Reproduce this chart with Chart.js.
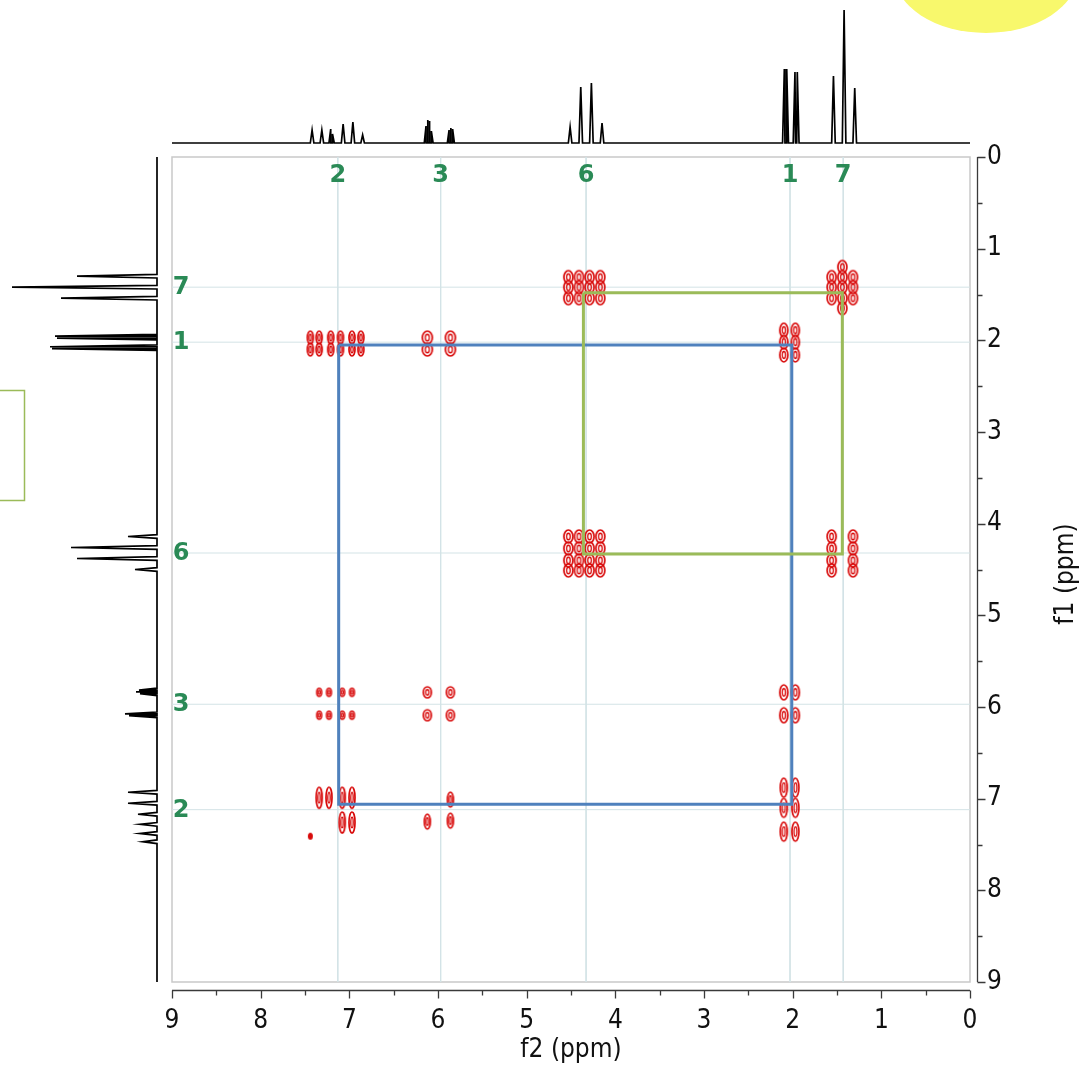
<!DOCTYPE html>
<html>
<head>
<meta charset="utf-8">
<script src="https://cdn.jsdelivr.net/npm/chart.js@4.4.1/dist/chart.umd.min.js"></script>
<style>
  html, body { margin: 0; padding: 0; background: #ffffff; }
  #wrap { position: relative; width: 1081px; height: 1066px; overflow: hidden; background: #ffffff; }
  #wrap canvas { position: absolute; }
</style>
</head>
<body>
<div id="wrap">
  <canvas id="main" width="1081" height="1066" style="left:0;top:0;width:1081px;height:1066px"></canvas>
  <canvas id="topSpec" width="1081" height="157" style="left:0;top:0;width:1081px;height:157px"></canvas>
  <canvas id="leftSpec" width="172" height="825" style="left:0;top:157px;width:172px;height:825px"></canvas>
</div>
<script>
// ---------------- DATA ----------------
// axis ranges / ticks (ppm)
const f2Min = 0, f2Max = 9;
const f1Min = 0, f1Max = 9;
const axisTickValues = [0, 1, 2, 3, 4, 5, 6, 7, 8, 9];

// 1D 1H spectrum shown along f2 (top): line positions (ppm) and intensities
const topPeakPpm    = [7.42, 7.31, 7.21, 7.19, 7.07, 6.96, 6.85, 6.135, 6.115, 6.095, 6.075, 5.875, 5.855, 5.835, 4.51, 4.39, 4.27, 4.15, 2.094, 2.067, 1.974, 1.948, 1.54, 1.42, 1.30];
const topPeakHeight = [13,   13,   14,   9,    19,   21,   8,    17,    23,    22,    12,    13,    15,    14,    16,   56,   60,   20,   74,    74,    71,    71,    67,   133,  55];

// 1D 1H spectrum shown along f1 (left): line positions (ppm) and intensities
const leftPeakPpm    = [1.30, 1.42, 1.54, 1.955, 1.975, 2.07, 2.09, 4.14, 4.26, 4.38, 4.50, 5.815, 5.835, 5.855, 6.075, 6.095, 6.93, 7.05, 7.17, 7.28, 7.38, 7.47];
const leftPeakHeight = [80,   145,  96,   102,   100,   107,  105,  29,   86,   80,   22,   18,    21,    17,    32,    28,    29,   29,   19,   17,   17,   14];

// assignment labels and their shifts
const assignLabels = ['2', '3', '6', '1', '7'];
const assignF2 = [7.13, 5.97, 4.33, 2.03, 1.43];
const assignF1 = [7.12, 5.97, 4.32, 2.02, 1.42];

// COSY cross-peak line sets (ppm): columns along f2, rows along f1
const colsH2row1 = [7.44, 7.34, 7.21, 7.10, 6.97, 6.87];
const colsH2     = [7.34, 7.23, 7.08, 6.97];
const colsH2b    = [7.08, 6.97];
const colsH3     = [6.12, 5.86];
const colsH6     = [4.53, 4.41, 4.29, 4.17];
const colsH1     = [2.10, 1.97];
const colsH7     = [1.56, 1.44, 1.32];
const colsH7side = [1.56, 1.32];
const colsH7mid  = [1.44];
const rowsH1     = [1.97, 2.10];
const rowsH1diag = [1.89, 2.02, 2.16];
const rowsH7     = [1.31, 1.42, 1.54];
const rowsH7ext  = [1.20, 1.65];
const rowsH6     = [4.14, 4.27, 4.40, 4.51];
const rowsH3     = [5.84, 6.09];
const rowsH2a    = [6.99];
const rowsH2b    = [7.26];
const rowsH3H2a  = [7.25];
const rowsH3H2b  = [7.01, 7.24];
const rowsH1H2   = [6.88, 7.10, 7.36];
const strayPeak  = [[7.44, 7.41]];

// connectivity boxes (ppm corners)
const blueBoxF2 = [7.12, 2.01];
const blueBoxF1 = [2.05, 7.06];
const greenBoxF2 = [4.36, 1.44];
const greenBoxF1 = [1.48, 4.33];

// ---------------- HELPERS ----------------
const RED = '#d80a0a';
const GREEN_TXT = '#2a8a56';
const TICK_FONT = "'DejaVu Sans Condensed', 'DejaVu Sans', sans-serif";

function sprite(w, h, opts) {
  opts = opts || {};
  const pad = 2;
  const c = document.createElement('canvas');
  c.width = Math.ceil(w + pad * 2);
  c.height = Math.ceil(h + pad * 2);
  const g = c.getContext('2d');
  const cx = c.width / 2, cy = c.height / 2;
  g.strokeStyle = RED;
  g.fillStyle = RED;
  g.lineWidth = opts.lw || 1.7;
  g.beginPath();
  g.ellipse(cx, cy, w / 2, h / 2, 0, 0, Math.PI * 2);
  if (opts.fill) { g.fill(); } else { g.stroke(); }
  if (!opts.fill) {
    g.lineWidth = 1.3;
    g.beginPath();
    g.ellipse(cx, cy, Math.max(w / 2 * 0.4, 0.8), Math.max(h / 2 * 0.5, 0.8), 0, 0, Math.PI * 2);
    g.stroke();
  }
  return c;
}

function grid(cols, rows) {
  const pts = [];
  cols.forEach(x => rows.forEach(y => pts.push({ x, y })));
  return pts;
}

function traceF2(ppm, h, hw) {
  const pts = [{ x: f2Max, y: 0 }, { x: f2Min, y: 0 }];
  ppm.forEach((p, i) => { pts.push({ x: p + hw, y: 0 }, { x: p, y: h[i] }, { x: p - hw, y: 0 }); });
  pts.sort((a, b) => b.x - a.x);
  return pts;
}
function traceF1(ppm, h, hw) {
  const pts = [{ y: f1Min, x: 0 }, { y: f1Max, x: 0 }];
  ppm.forEach((p, i) => { pts.push({ y: p - hw, x: 0 }, { y: p, x: h[i] }, { y: p + hw, x: 0 }); });
  pts.sort((a, b) => a.y - b.y);
  return pts;
}

// ---------------- MAIN 2D CHART ----------------
const sp = {
  lobeNarrow: sprite(6, 13),
  lobeWide: sprite(10, 13),
  lobe: sprite(9, 13),
  lobeDiag1: sprite(8, 14),
  small: sprite(5, 8, { lw: 1.5 }),
  mid: sprite(8, 11),
  h1h3: sprite(8, 15),
  tall: sprite(6, 21),
  h3h2: sprite(6, 15),
  h1h2: sprite(7, 19),
  dot: sprite(5, 7, { fill: true })
};

const clusters = [
  [grid(colsH2row1, rowsH1), sp.lobeNarrow],
  [grid(colsH3, rowsH1), sp.lobeWide],
  [grid(colsH1, rowsH1diag), sp.lobeDiag1],
  [grid(colsH6, rowsH7), sp.lobe],
  [grid(colsH7, rowsH7), sp.lobe],
  [grid(colsH7mid, rowsH7ext), sp.lobe],
  [grid(colsH6, rowsH6), sp.lobe],
  [grid(colsH7side, rowsH6), sp.lobe],
  [grid(colsH2, rowsH3), sp.small],
  [grid(colsH3, rowsH3), sp.mid],
  [grid(colsH1, rowsH3), sp.h1h3],
  [grid(colsH2, rowsH2a), sp.tall],
  [grid(colsH2b, rowsH2b), sp.tall],
  [grid([colsH3[0]], rowsH3H2a), sp.h3h2],
  [grid([colsH3[1]], rowsH3H2b), sp.h3h2],
  [grid(colsH1, rowsH1H2), sp.h1h2],
  [strayPeak.map(p => ({ x: p[0], y: p[1] })), sp.dot]
];

const datasets = [];
function box(f2s, f1s) {
  return [
    { x: f2s[0], y: f1s[0] }, { x: f2s[1], y: f1s[0] },
    { x: f2s[1], y: f1s[1] }, { x: f2s[0], y: f1s[1] },
    { x: f2s[0], y: f1s[0] }
  ];
}
datasets.push({ data: box(greenBoxF2, greenBoxF1), showLine: true, pointRadius: 0, borderColor: '#9bbb59', borderWidth: 3, order: 0, tension: 0 });
datasets.push({ data: box(blueBoxF2, blueBoxF1), showLine: true, pointRadius: 0, borderColor: '#4f81bd', borderWidth: 3, order: 0, tension: 0 });
clusters.forEach(c => {
  datasets.push({ data: c[0], pointStyle: c[1], pointRadius: 6, showLine: false, order: 1 });
});
assignF2.forEach(p => {
  datasets.push({ data: [{ x: p, y: f1Min }, { x: p, y: f1Max }], showLine: true, pointRadius: 0, borderColor: '#d3e3e6', borderWidth: 1, order: 2 });
});
assignF1.forEach(p => {
  datasets.push({ data: [{ x: f2Min, y: p }, { x: f2Max, y: p }], showLine: true, pointRadius: 0, borderColor: '#d3e3e6', borderWidth: 1, order: 2 });
});

const decor = {
  id: 'decor',
  beforeDraw(chart) {
    const ctx = chart.ctx;
    ctx.save();
    ctx.fillStyle = '#f8f86c';
    ctx.beginPath();
    ctx.ellipse(986, -27, 92, 60, 0, 0, Math.PI * 2);
    ctx.fill();
    ctx.strokeStyle = '#9bbb59';
    ctx.lineWidth = 1.5;
    ctx.strokeRect(-10, 390.5, 34.5, 110);
    ctx.restore();
  },
  beforeDatasetsDraw(chart) {
    const { ctx, chartArea: a } = chart;
    ctx.save();
    ctx.strokeStyle = '#c9c9c9';
    ctx.lineWidth = 1.5;
    ctx.strokeRect(a.left, a.top, a.right - a.left, a.bottom - a.top);
    ctx.restore();
  },
  afterDraw(chart) {
    const { ctx, chartArea: a, scales } = chart;
    const xs = scales.x, ys = scales.y;
    ctx.save();
    ctx.strokeStyle = '#3a3a3a';
    ctx.lineWidth = 1.3;
    const by = a.bottom + 8.5;
    ctx.beginPath();
    ctx.moveTo(xs.getPixelForValue(f2Max), by);
    ctx.lineTo(xs.getPixelForValue(f2Min), by);
    for (let v = f2Min; v <= f2Max + 1e-9; v += 0.5) {
      const px = Math.round(xs.getPixelForValue(v)) + 0.5;
      const len = Number.isInteger(v) ? 8 : 5;
      ctx.moveTo(px, by); ctx.lineTo(px, by + len);
    }
    ctx.stroke();
    const rx = a.right + 7.5;
    ctx.beginPath();
    ctx.moveTo(rx, ys.getPixelForValue(f1Min));
    ctx.lineTo(rx, ys.getPixelForValue(f1Max));
    for (let v = f1Min; v <= f1Max + 1e-9; v += 0.5) {
      const py = Math.round(ys.getPixelForValue(v)) + 0.5;
      const len = Number.isInteger(v) ? 8 : 5;
      ctx.moveTo(rx, py); ctx.lineTo(rx + len, py);
    }
    ctx.stroke();

    ctx.fillStyle = GREEN_TXT;
    ctx.font = "bold 24px 'DejaVu Sans', sans-serif";
    ctx.textAlign = 'center';
    ctx.textBaseline = 'middle';
    assignLabels.forEach((t, i) => {
      ctx.fillText(t, xs.getPixelForValue(assignF2[i]), a.top + 19);
      ctx.fillText(t, a.left + 9, ys.getPixelForValue(assignF1[i]) + 1);
    });

    ctx.fillStyle = '#111111';
    ctx.font = "26px " + TICK_FONT;
    ctx.textAlign = 'center';
    ctx.textBaseline = 'middle';
    ctx.fillText('f2 (ppm)', (a.left + a.right) / 2, 1050);
    ctx.translate(1066, 574);
    ctx.rotate(-Math.PI / 2);
    ctx.fillText('f1 (ppm)', 0, 0);
    ctx.restore();
  }
};

new Chart(document.getElementById('main'), {
  type: 'scatter',
  data: { datasets },
  options: {
    responsive: false,
    animation: false,
    devicePixelRatio: 1,
    layout: { padding: { left: 172, top: 157, right: 0, bottom: 0 } },
    plugins: { legend: { display: false }, tooltip: { enabled: false } },
    elements: { line: { tension: 0 } },
    scales: {
      x: {
        type: 'linear', position: 'bottom', reverse: true, min: f2Min, max: f2Max,
        afterBuildTicks(s) { s.ticks = axisTickValues.map(v => ({ value: v })); },
        ticks: { padding: 24, color: '#111111', font: { family: TICK_FONT, size: 26 }, maxRotation: 0, autoSkip: false },
        grid: { display: false, drawTicks: false },
        border: { display: false },
        afterFit(s) { s.height = 84; }
      },
      y: {
        type: 'linear', position: 'right', reverse: true, min: f1Min, max: f1Max,
        afterBuildTicks(s) { s.ticks = axisTickValues.map(v => ({ value: v })); },
        ticks: { padding: 17, color: '#111111', font: { family: TICK_FONT, size: 26 }, autoSkip: false },
        grid: { display: false, drawTicks: false },
        border: { display: false },
        afterFit(s) { s.width = 111; }
      }
    }
  },
  plugins: [decor]
});

new Chart(document.getElementById('topSpec'), {
  type: 'scatter',
  data: { datasets: [{ data: traceF2(topPeakPpm, topPeakHeight, 0.02), showLine: true, pointRadius: 0, borderColor: '#000000', borderWidth: 1.7, tension: 0, clip: 6 }] },
  options: {
    responsive: false, animation: false, devicePixelRatio: 1,
    layout: { padding: { left: 172, right: 111, top: 10, bottom: 14 } },
    plugins: { legend: { display: false }, tooltip: { enabled: false } },
    scales: {
      x: { type: 'linear', display: false, reverse: true, min: f2Min, max: f2Max },
      y: { type: 'linear', display: false, min: 0, max: 133 }
    }
  }
});

new Chart(document.getElementById('leftSpec'), {
  type: 'scatter',
  data: { datasets: [{ data: traceF1(leftPeakPpm, leftPeakHeight, 0.02), showLine: true, pointRadius: 0, borderColor: '#000000', borderWidth: 1.7, tension: 0, clip: 6 }] },
  options: {
    responsive: false, animation: false, devicePixelRatio: 1,
    layout: { padding: { left: 12, right: 15, top: 0, bottom: 0 } },
    plugins: { legend: { display: false }, tooltip: { enabled: false } },
    scales: {
      x: { type: 'linear', display: false, reverse: true, min: 0, max: 145 },
      y: { type: 'linear', display: false, reverse: true, min: f1Min, max: f1Max }
    }
  }
});
</script>
</body>
</html>
